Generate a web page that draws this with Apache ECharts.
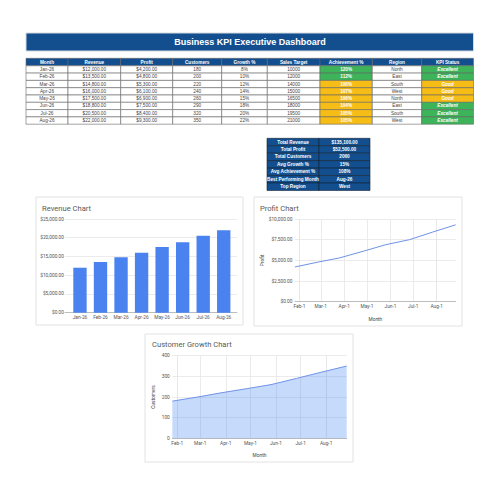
<!DOCTYPE html>
<html><head><meta charset="utf-8">
<style>html,body{margin:0;padding:0;background:#fff}#c{width:500px;height:500px}</style>
<script src="https://cdn.jsdelivr.net/npm/echarts@6/dist/echarts.min.js"></script>
</head><body><div id="c"></div>
<script>
const dashboardTitle = 'Business KPI Executive Dashboard';
const headers = ['Month','Revenue','Profit','Customers','Growth %','Sales Target','Achievement %','Region','KPI Status'];
const months = ['Jan-26','Feb-26','Mar-26','Apr-26','May-26','Jun-26','Jul-26','Aug-26'];
const dates = ['2025-01-26','2025-02-26','2025-03-26','2025-04-26','2025-05-26','2025-06-26','2025-07-26','2025-08-26'];
const tickDates = ['2025-02-01','2025-03-01','2025-04-01','2025-05-01','2025-06-01','2025-07-01','2025-08-01'];
const revenue = [12000,13500,14800,16000,17500,18800,20500,22000];
const profit = [4200,4800,5300,6100,6900,7500,8400,9300];
const customers = [180,200,220,240,260,290,320,350];
const growth = [8,10,12,14,15,18,20,22];
const targets = [10000,12000,14000,15000,16500,18000,19500,21000];
const achievement = [120,112,106,107,106,104,105,105];
const regions = ['North','East','South','West','North','East','South','West'];
const status = ['Excellent','Excellent','Good','Good','Good','Excellent','Excellent','Excellent'];
const summaryLabels = ['Total Revenue','Total Profit','Total Customers','Avg Growth %','Avg Achievement %','Best Performing Month','Top Region'];
const summaryValues = ['$135,100.00','$52,500.00','2060','15%','108%','Aug-26','West'];

const NAVY='#134f8f', GREEN='#3db45a', AMBER='#f6bd16';
const money = v => '$' + Number(v).toLocaleString('en-US',{minimumFractionDigits:2,maximumFractionDigits:2});
const FF='"Liberation Sans",Arial,sans-serif', CF='Roboto,"Liberation Sans",sans-serif';
const g=[];
function cell(x0,x1,y0,y1,fill,txt,color,weight,style,stroke){
  g.push({type:'rect',z:1,shape:{x:x0,y:y0,width:x1-x0,height:y1-y0},style:{fill:fill,stroke:stroke||'#666',lineWidth:0.6}});
  g.push({type:'text',z:2,x:(x0+x1)/2,y:(y0+y1)/2,style:{text:txt,fill:color,font:(style||'normal')+' '+(weight||'normal')+' 4.7px '+FF,align:'center',verticalAlign:'middle'}});
}
// title bar
g.push({type:'rect',z:1,shape:{x:26,y:33,width:447.5,height:18},style:{fill:NAVY,stroke:'#d5d9de',lineWidth:1}});
g.push({type:'text',z:2,x:250,y:42.3,style:{text:dashboardTitle,fill:'#fff',font:'bold 9px '+FF,align:'center',verticalAlign:'middle'}});
// main table
const cols=[26,68,120.7,172.7,221.7,267.3,320,372.3,421.7,473.5];
const top0=58.3, hh=7.5, rh=7.3;
headers.forEach((h,i)=>cell(cols[i],cols[i+1],top0,top0+hh,NAVY,h,'#fff','bold'));
months.forEach((m,r)=>{
  const y0=top0+hh+r*rh,y1=y0+rh;
  const vals=[m,money(revenue[r]),money(profit[r]),String(customers[r]),growth[r]+'%',String(targets[r])];
  vals.forEach((v,i)=>cell(cols[i],cols[i+1],y0,y1,'#fff',v,'#444'));
  cell(cols[6],cols[7],y0,y1,r<2?GREEN:AMBER,achievement[r]+'%','#fff','bold');
  cell(cols[7],cols[8],y0,y1,'#fff',regions[r],'#444');
  cell(cols[8],cols[9],y0,y1,status[r]==='Good'?AMBER:GREEN,status[r],'#fff','bold','italic');
});
// summary table
summaryLabels.forEach((l,r)=>{
  const y0=138.3+r*7.45,y1=y0+7.45;
  cell(267,319,y0,y1,NAVY,l,'#fff','bold',null,'#123');
  cell(319,370,y0,y1,NAVY,summaryValues[r],'#fff','bold',null,'#123');
});
// cards
[[36,197,207,128],[254,197,208,129],[145,334,208,128]].forEach(c=>{
  g.push({type:'rect',z:-5,shape:{x:c[0],y:c[1],width:c[2],height:c[3]},style:{fill:'#fff',stroke:'#e2e2e2',lineWidth:1}});
});

const lbl={fontFamily:CF,fontSize:4.8,color:'#555'};
const split={show:true,lineStyle:{color:'#e6e6e6',width:0.8}};
const axLine={show:true,onZero:false,lineStyle:{color:'#bdbdbd',width:1}};
const ttl=(t,x,y)=>({text:t,left:x,top:y,textStyle:{fontFamily:CF,fontSize:7.6,fontWeight:'normal',color:'#5a5a5a'},padding:0});
const nameStyle={fontFamily:CF,fontSize:4.8,color:'#444'};
const tickMs=tickDates.map(d=>echarts.time.parse(d).getTime());
const timeAxis=(i)=>({type:'time',gridIndex:i,min:dates[0],max:dates[7],name:'Month',nameLocation:'middle',nameGap:15,nameTextStyle:nameStyle,
  axisLine:axLine,axisTick:{show:false,customValues:tickMs},
  axisLabel:Object.assign({},lbl,{customValues:tickMs,hideOverlap:false,margin:2.5,formatter:'{MMM}-{d}'}),
  splitLine:split});
const chart=echarts.init(document.getElementById('c'),null,{renderer:'svg',width:500,height:500});
chart.setOption({
  animation:false,backgroundColor:'#fff',
  title:[ttl('Revenue Chart',42,204.5),ttl('Profit Chart',260,204.5),ttl('Customer Growth Chart',152,340.5)],
  graphic:{elements:g},
  grid:[
    {left:69.7,right:266,top:219,height:93.7},
    {left:295,right:44.3,top:219,height:82.7},
    {left:172.3,right:153.3,top:355.7,height:82.6},
    {left:65,right:263,top:219,height:93.7}
  ],
  xAxis:[
    {type:'category',gridIndex:0,data:months,axisLine:{show:false},axisTick:{show:false},axisLabel:Object.assign({},lbl,{interval:0,margin:2.5}),splitLine:{show:false}},
    timeAxis(1),timeAxis(2),
    {type:'category',gridIndex:3,data:months,axisLine:axLine,axisTick:{show:false},axisLabel:{show:false},splitLine:{show:false}}
  ],
  yAxis:[
    {type:'value',gridIndex:0,min:0,max:25000,interval:5000,axisLine:{show:false},axisTick:{show:false},axisLabel:Object.assign({},lbl,{formatter:money,margin:5.7}),splitLine:{show:false}},
    {type:'value',gridIndex:1,min:0,max:10000,interval:2500,name:'Profit',nameLocation:'middle',nameGap:30,nameTextStyle:nameStyle,axisLine:{show:false},axisTick:{show:false},axisLabel:Object.assign({},lbl,{formatter:money,margin:2.5}),splitLine:split},
    {type:'value',gridIndex:2,min:0,max:400,interval:100,name:'Customers',nameLocation:'middle',nameGap:16,nameTextStyle:nameStyle,axisLine:{show:false},axisTick:{show:false},axisLabel:Object.assign({},lbl,{margin:2.5}),splitLine:split},
    {type:'value',gridIndex:3,min:0,max:25000,interval:5000,axisLine:{show:false},axisTick:{show:false},axisLabel:{show:false},splitLine:split}
  ],
  series:[
    {type:'bar',xAxisIndex:0,yAxisIndex:0,data:revenue,barWidth:'65%',itemStyle:{color:'#4a82ef'}},
    {type:'line',xAxisIndex:1,yAxisIndex:1,data:dates.map((d,i)=>[d,profit[i]]),showSymbol:false,lineStyle:{color:'#6f93e6',width:1}},
    {type:'line',xAxisIndex:2,yAxisIndex:2,data:dates.map((d,i)=>[d,customers[i]]),showSymbol:false,lineStyle:{color:'#6f93e6',width:1},areaStyle:{color:'#4285f4',opacity:0.3}}
  ]
});
</script></body></html>
